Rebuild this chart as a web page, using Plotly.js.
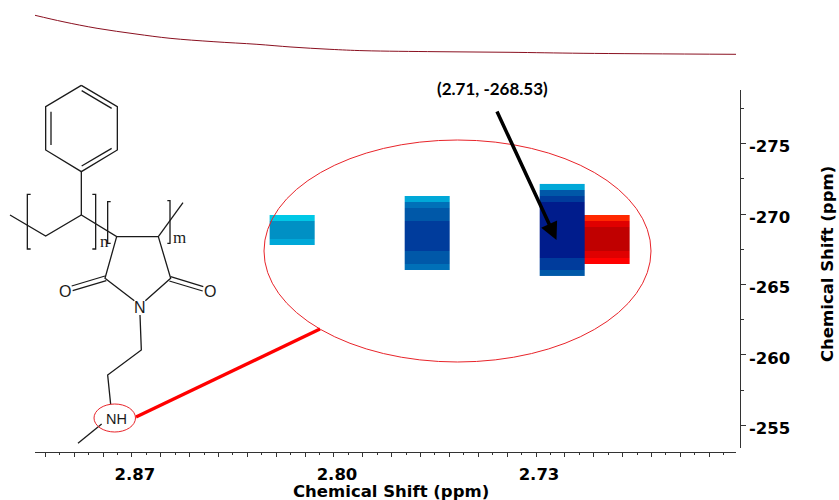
<!DOCTYPE html>
<html><head><meta charset="utf-8">
<script src="https://cdn.plot.ly/plotly-3.0.1.min.js"></script>
<style>html,body{margin:0;padding:0;background:#fff}#c{width:839px;height:500px}</style>
</head><body><div id="c"></div>
<script>
var W = 839, H = 500;
// 1D projection curve (ppm, relative intensity)
var traceX = [2.9036,2.8939,2.8821,2.8686,2.8568,2.8416,2.8267,2.8149,2.8014,2.7896,2.7643,2.7390,2.7137,2.6607];
var traceY = [40.7,34.3,27.7,22,17.7,14.3,11.7,9,6.7,5.3,4.3,3.7,2.7,1.7];
// 2D map: regular grid of cells
var cellX = [2.8145,2.7989,2.7833,2.7677,2.7521,2.7365,2.7209,2.7053];
var mapY = [-271.92,-271.49,-271.05,-270.62,-270.18,-269.75,-269.31,-268.88,-268.44,-268.01,-267.57,-267.14,-266.70,-266.27,-265.83];
var levels = ['#00c8e6','#00a8d8','#0090c4','#0070b8','#0058a8','#003c9c','#001c8c','#ff2800','#ff0000','#e00000','#c00000'];
var col1 = [null,null,null,null,null,0,2,2,2,1,null,null,null,null,null];
var col2 = [null,null,1,3,4,4,5,5,5,5,5,4,4,3,null];
var col3 = [1,4,5,6,6,6,6,6,6,6,6,6,5,5,4];
var col4 = [null,null,null,null,null,7,9,10,10,10,10,9,8,null,null];
var tickVals = [2.90,2.89,2.88,2.87,2.86,2.85,2.84,2.83,2.82,2.81,2.80,2.79,2.78,2.77,2.76,2.75,2.74,2.73,2.72,2.71,2.70,2.69,2.68,2.67];
var tickText = ['','','','2.87','','','','','','','2.80','','','','','','','2.73','','','','','',''];
var yTicks = [-275,-270,-265,-260,-255];
var yText = ['-275','-270','-265','-260','-255'];
var peakText = '(2.71, -268.53)';
var axisTitle = 'Chemical Shift (ppm)';

var z = mapY.map(function(_, r){
  return [col1[r],null,null,col2[r],null,null,col3[r],col4[r]];
});
var n = levels.length;
var cs = [];
levels.forEach(function(c,i){ cs.push([i/n,c]); cs.push([(i+1)/n,c]); });
function px(x){return x/W;} function py(y){return 1-y/H;}
var shapes = [];
function poly(pts,w,col){
  var d = pts.map(function(p,i){return (i?'L':'M')+px(p[0]/3)+' '+py(p[1]/3+70);}).join(' ');
  shapes.push({type:'path',xref:'paper',yref:'paper',path:d,line:{color:col||'#1a1a1a',width:w||1.3}});
}
// structure, coordinates of the drawing
poly([[244,46],[352,110],[352,240],[244,305],[137,240],[137,110],[244,46]]);
poly([[245,62],[335,115]]);poly([[153,125],[153,225]]);poly([[245,288],[335,235]]);
poly([[244,305],[244,435]]);
poly([[30,435],[137,498],[244,435],[350,500],[475,500],[512,625],[436,692]]);
poly([[350,500],[315,625],[403,692]]);
poly([[475,500],[549,398]]);
poly([[315,618],[215,648]]);poly([[319,632],[218,662]]);
poly([[512,620],[610,650]]);poly([[508,633],[608,663]]);
poly([[420,735],[424,840],[323,915],[332,1003]]);
poly([[305,1062],[234,1120]]);
poly([[92,373],[82,373],[82,537],[92,537]]);
poly([[277,373],[287,373],[287,537],[277,537]]);
poly([[332,395],[323,395],[323,520],[332,520]]);
poly([[502,392],[510,392],[510,520],[502,520]]);
// red callouts
shapes.push({type:'circle',xref:'paper',yref:'paper',x0:px(264),x1:px(651),y0:py(362),y1:py(140),line:{color:'#e8242a',width:1}});
shapes.push({type:'circle',xref:'paper',yref:'paper',x0:px(94),x1:px(135.5),y0:py(432),y1:py(404),line:{color:'#e8242a',width:1}});
shapes.push({type:'line',xref:'paper',yref:'paper',x0:px(136),y0:py(417),x1:px(320),y1:py(329),line:{color:'#ff0000',width:3.3}});

function lbl(t,x,y,size,fam){return {text:t,xref:'paper',yref:'paper',x:px(x),y:py(y),showarrow:false,xanchor:'center',yanchor:'middle',font:{family:fam||'Liberation Sans',size:size,color:'#1a1a1a'}};}
var ann = [
  lbl('O',64.5,291,16),lbl('O',210,291,16),lbl('N',140,307,16),lbl('NH',116.5,419,14.5),
  lbl('n',104.5,241,17,'Liberation Serif'),lbl('m',179,237,17,'Liberation Serif'),
  {text:'<b>'+axisTitle+'</b>',xref:'paper',yref:'paper',x:px(391),y:py(491),showarrow:false,xanchor:'center',yanchor:'middle',font:{family:'DejaVu Sans',size:16.5,color:'#000'}},
  {text:'<b>'+axisTitle+'</b>',xref:'paper',yref:'paper',x:px(827),y:py(264),showarrow:false,textangle:-90,xanchor:'center',yanchor:'middle',font:{family:'DejaVu Sans',size:16.5,color:'#000'}},
  {text:'<b>'+peakText+'</b>',xref:'paper',yref:'paper',x:px(492),y:py(89),showarrow:false,xanchor:'center',yanchor:'middle',font:{family:'Lato',size:17,color:'#000'}},
  {text:' ',xref:'x',yref:'y',x:2.7229,y:-268.16,ax:494-556.5,ay:105-240,showarrow:true,arrowhead:2,arrowsize:1,arrowwidth:3.5,arrowcolor:'#000',standoff:0}
];

var x0=35,x1=736;
var xr=[2.9036,2.6607];
var traces = [
 {type:'heatmap',x:cellX,y:mapY,z:z,zmin:0,zmax:n,colorscale:cs,showscale:false,hoverinfo:'skip',xaxis:'x',yaxis:'y'},
 {type:'scatter',mode:'lines',x:traceX,y:traceY,line:{color:'#8a1020',width:1,shape:'spline'},xaxis:'x',yaxis:'y2',hoverinfo:'skip'}
];
var layout = {
  width:W,height:H,margin:{l:0,r:0,t:0,b:0},paper_bgcolor:'#fff',plot_bgcolor:'rgba(0,0,0,0)',showlegend:false,
  xaxis:{domain:[px(x0),px(x1)],range:xr,anchor:'free',position:py(452),showline:true,linecolor:'#333',linewidth:1,side:'bottom',
    tickmode:'array',tickvals:tickVals,ticktext:tickText,ticks:'outside',ticklen:4,tickcolor:'#333',showgrid:false,zeroline:false,
    ticklabelshift:-3,ticklabelstandoff:3,tickfont:{family:'DejaVu Sans',size:16.5,weight:'bold',color:'#000'},
    minor:{dtick:0.005,tick0:2.87,ticks:'outside',ticklen:2,tickcolor:'#333',showgrid:false}},
  yaxis:{domain:[py(448),py(90)],range:[-253.4,-278.8],anchor:'free',position:px(739.7),side:'right',showline:true,linecolor:'#333',linewidth:1,
    tickmode:'array',tickvals:yTicks,ticktext:yText,ticks:'outside',ticklen:5,tickcolor:'#333',showgrid:false,zeroline:false,
    ticklabelshift:-3,tickfont:{family:'DejaVu Sans',size:16.5,weight:'bold',color:'#000'},
    minor:{dtick:2.5,tick0:-255,ticks:'outside',ticklen:3,tickcolor:'#333',showgrid:false}},
  yaxis2:{domain:[py(56),py(14)],range:[0,42],anchor:'x',visible:false},
  shapes:shapes,annotations:ann
};
Plotly.newPlot('c',traces,layout,{staticPlot:true,displayModeBar:false});
</script></body></html>
